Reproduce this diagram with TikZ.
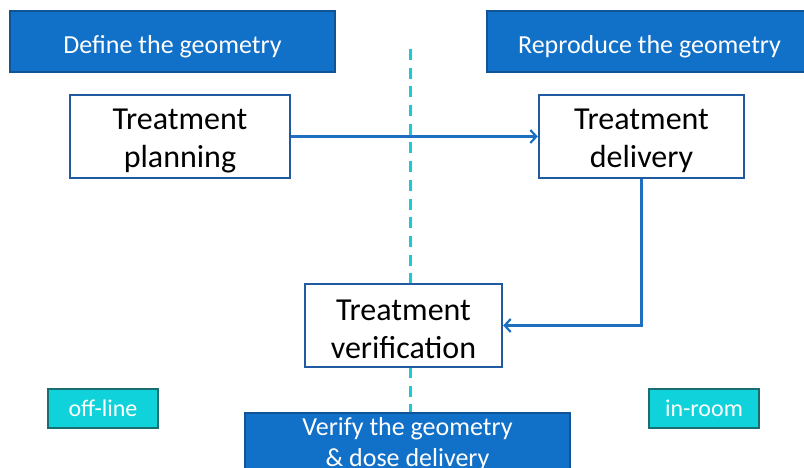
\documentclass[tikz,border=0pt]{standalone}
\usepackage{fontspec}
\setmainfont{Carlito}
\usetikzlibrary{arrows.meta}
\definecolor{hdrblue}{RGB}{17,112,200}
\definecolor{hdrborder}{RGB}{16,84,150}
\definecolor{boxborder}{RGB}{32,90,160}
\definecolor{arrblue}{RGB}{31,111,192}
\definecolor{cyanfill}{RGB}{16,210,218}
\definecolor{cyanborder}{RGB}{26,110,112}
\definecolor{dashcyan}{RGB}{24,204,214}
\newcommand{\stepstrut}{\rule{0pt}{29pt}}
\begin{document}
\begin{tikzpicture}[x=1pt,y=1pt,
  header/.style={draw=hdrborder,line width=2pt,fill=hdrblue,text=white,font=\fontsize{26}{31}\selectfont,inner sep=0pt,align=center},
  hdrlow/.style={execute at begin node={\rule{0pt}{27.5pt}}},
  stepbox/.style={draw=boxborder,line width=2.4pt,fill=white,text=black,font=\fontsize{32}{38}\selectfont,inner sep=0pt,align=center},
  tag/.style={draw=cyanborder,line width=2.4pt,fill=cyanfill,text=white,font=\fontsize{24}{28}\selectfont,inner sep=0pt},
  conn/.style={draw=arrblue,line width=2.2pt,-{Straight Barb[length=6pt,width=13pt]}}]
\useasboundingbox (0,0) rectangle (804,468);
% dashed divider
\coordinate (dtop) at (410,419);
\coordinate (dbot) at (410,56);
\draw[dashcyan,line width=3pt,dash pattern=on 11pt off 7.7pt] (dtop) -- (dbot);
% headers
\node[header,hdrlow,minimum width=325pt,minimum height=61pt] (define) at (172.5,426.5) {Define the geometry};
\node[header,hdrlow,minimum width=322pt,minimum height=61pt,anchor=west] (repro) at (486,426.5) {\hspace*{3pt}Reproduce the geometry};
\node[header,minimum width=325pt,anchor=north,inner ysep=4pt] (verify) at (407.5,56) {Verify the geometry\\\& dose delivery};
% steps
\node[stepbox,minimum width=220pt,minimum height=83pt] (plan) at (180,331.5) {\stepstrut Treatment\\planning};
\node[stepbox,minimum width=205pt,minimum height=83pt] (deliv) at (641.5,331.5) {\stepstrut Treatment\\delivery};
\node[stepbox,minimum width=197pt,minimum height=83pt] (verif) at (403.5,142.5) {\stepstrut Treatment\\verification};
% tags
\node[tag,minimum width=110pt,minimum height=39pt] (off) at (103,59.5) {off-line};
\node[tag,minimum width=110pt,minimum height=39pt] (room) at (704,59.5) {in-room};
% connectors
\draw[conn] (plan.east) -- (deliv.west);
\draw[conn] (deliv.south) |- (verif.east);
\end{tikzpicture}
\end{document}
